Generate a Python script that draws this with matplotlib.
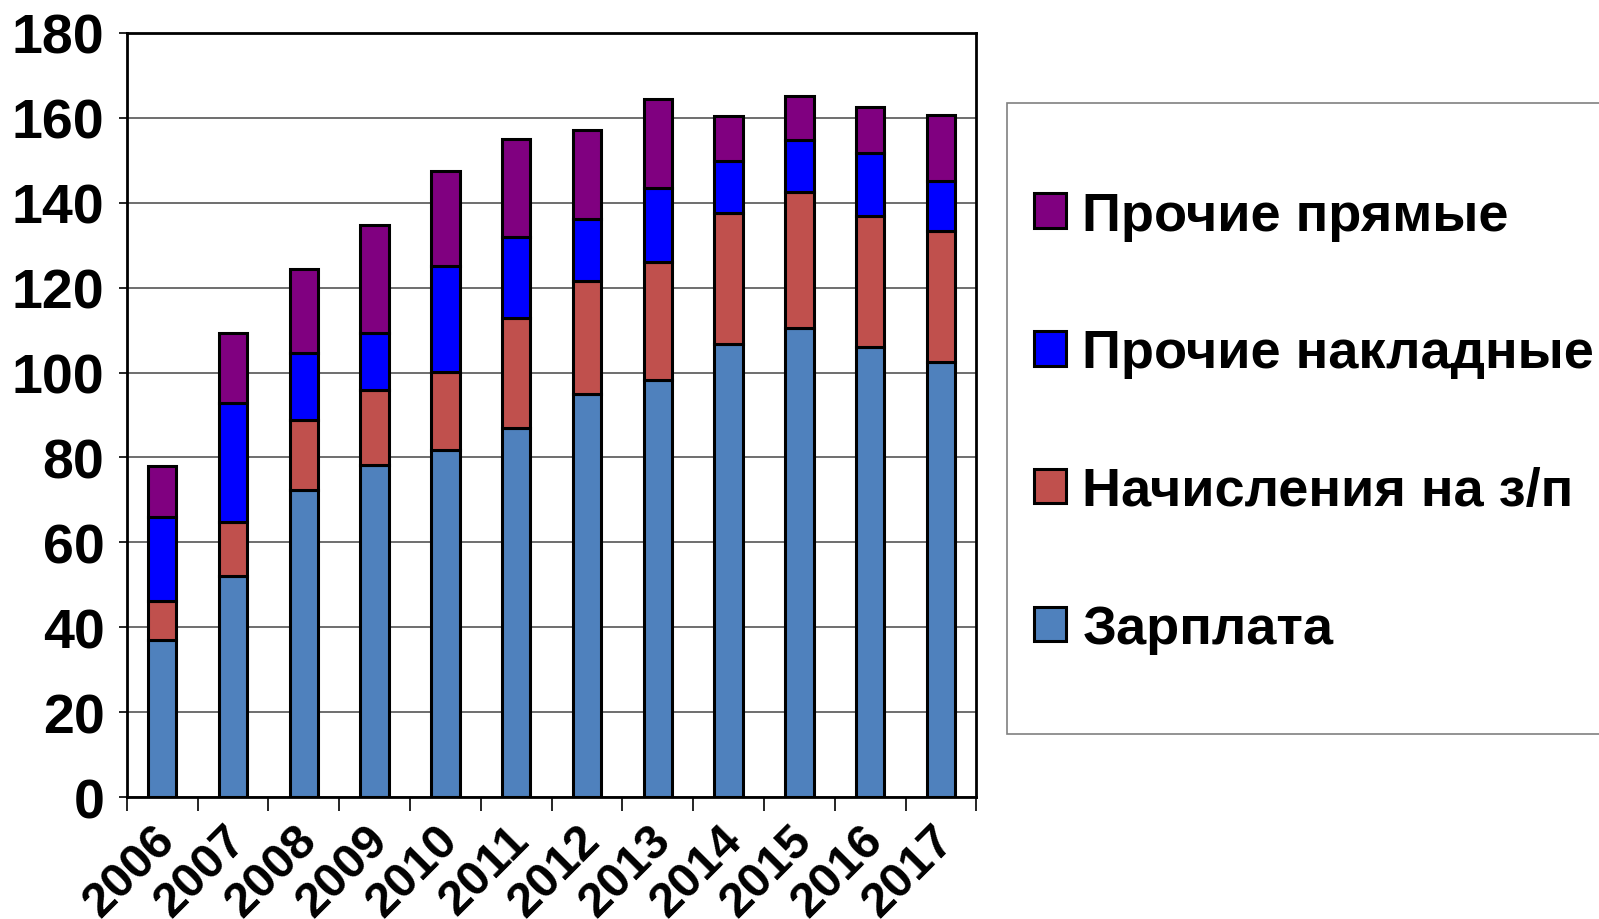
import numpy as np
import matplotlib.pyplot as plt
import matplotlib.transforms as mtransforms
from matplotlib.patches import Rectangle

# datos
years = ["2006", "2007", "2008", "2009", "2010", "2011", "2012", "2013", "2014", "2015", "2016", "2017"]
zarplata = [37.1, 52.1, 72.4, 78.3, 81.7, 86.9, 94.9, 98.2, 106.8, 110.4, 106.0, 102.4]
nachisleniya = [9.2, 12.8, 16.4, 17.5, 18.4, 26.0, 26.7, 27.8, 30.8, 32.0, 30.8, 30.8]
nakladnye = [19.6, 27.9, 15.9, 13.6, 25.0, 19.0, 14.5, 17.5, 12.2, 12.3, 14.8, 11.9]
pryamye = [12.1, 16.4, 19.6, 25.3, 22.3, 23.0, 21.1, 21.0, 10.7, 10.5, 10.8, 15.5]

series = [
    ("Зарплата", zarplata, "#4F81BD"),
    ("Начисления на з/п", nachisleniya, "#C0504D"),
    ("Прочие накладные", nakladnye, "#0000FF"),
    ("Прочие прямые", pryamye, "#800080"),
]

plt.rcParams['font.family'] = ['Liberation Sans', 'DejaVu Sans']
plt.rcParams['font.weight'] = 'bold'

W, H = 1599, 920
fig = plt.figure(figsize=(W / 100, H / 100), dpi=100)
ax = fig.add_axes([126.7 / W, 1 - 798.3 / H, (976.5 - 126.7) / W, (798.3 - 33.7) / H])

x = np.arange(len(years))
bottom = np.zeros(len(years))
handles = []
for name, vals, col in series:
    b = ax.bar(x, vals, 0.4, bottom=bottom, color=col, edgecolor='black', linewidth=2.2, label=name, zorder=3)
    handles.append(b)
    bottom += np.array(vals)

ax.set_xlim(-0.5, len(years) - 0.5)
ax.set_ylim(0, 180)
ax.set_yticks(np.arange(0, 181, 20))
ax.yaxis.grid(True, color='#555555', linewidth=1.2, zorder=0)
ax.tick_params(axis='y', labelsize=40, length=6, width=1.2, pad=10)

# ticks entre categorias, etiquetas en el centro
ax.set_xticks(np.arange(-0.5, len(years), 1))
ax.set_xticklabels([])
ax.tick_params(axis='x', which='major', length=10, width=1.2)
ax.set_xticks(x, minor=True)
ax.set_xticklabels(years, minor=True, rotation=45, ha='right', rotation_mode='anchor', fontsize=35, fontweight='bold')
ax.tick_params(axis='x', which='minor', length=0, pad=14)
offset = mtransforms.ScaledTranslation(-10 / 100, 0, fig.dpi_scale_trans)
for lab in ax.get_xticklabels(minor=True):
    lab.set_transform(lab.get_transform() + offset)
for lab in ax.get_yticklabels():
    lab.set_fontweight('bold')

for s in ax.spines.values():
    s.set_linewidth(2)
    s.set_color('black')

# cuadro de la leyenda que se sale de la figura
fig.patches.append(Rectangle((1007 / W, 1 - 735 / H), 700 / W, (735 - 104) / H,
                             transform=fig.transFigure, facecolor='white', edgecolor='#808080', linewidth=1.2))

fig.legend(handles[::-1], [s[0] for s in series][::-1], loc='upper left',
           bbox_to_anchor=(1012 / W, 1 - 170 / H), frameon=False,
           prop={'size': 39, 'weight': 'bold'}, handlelength=0.6, handleheight=0.6,
           handletextpad=0.3, labelspacing=1.62, borderaxespad=0)

fig.savefig('out.png', dpi=100)
